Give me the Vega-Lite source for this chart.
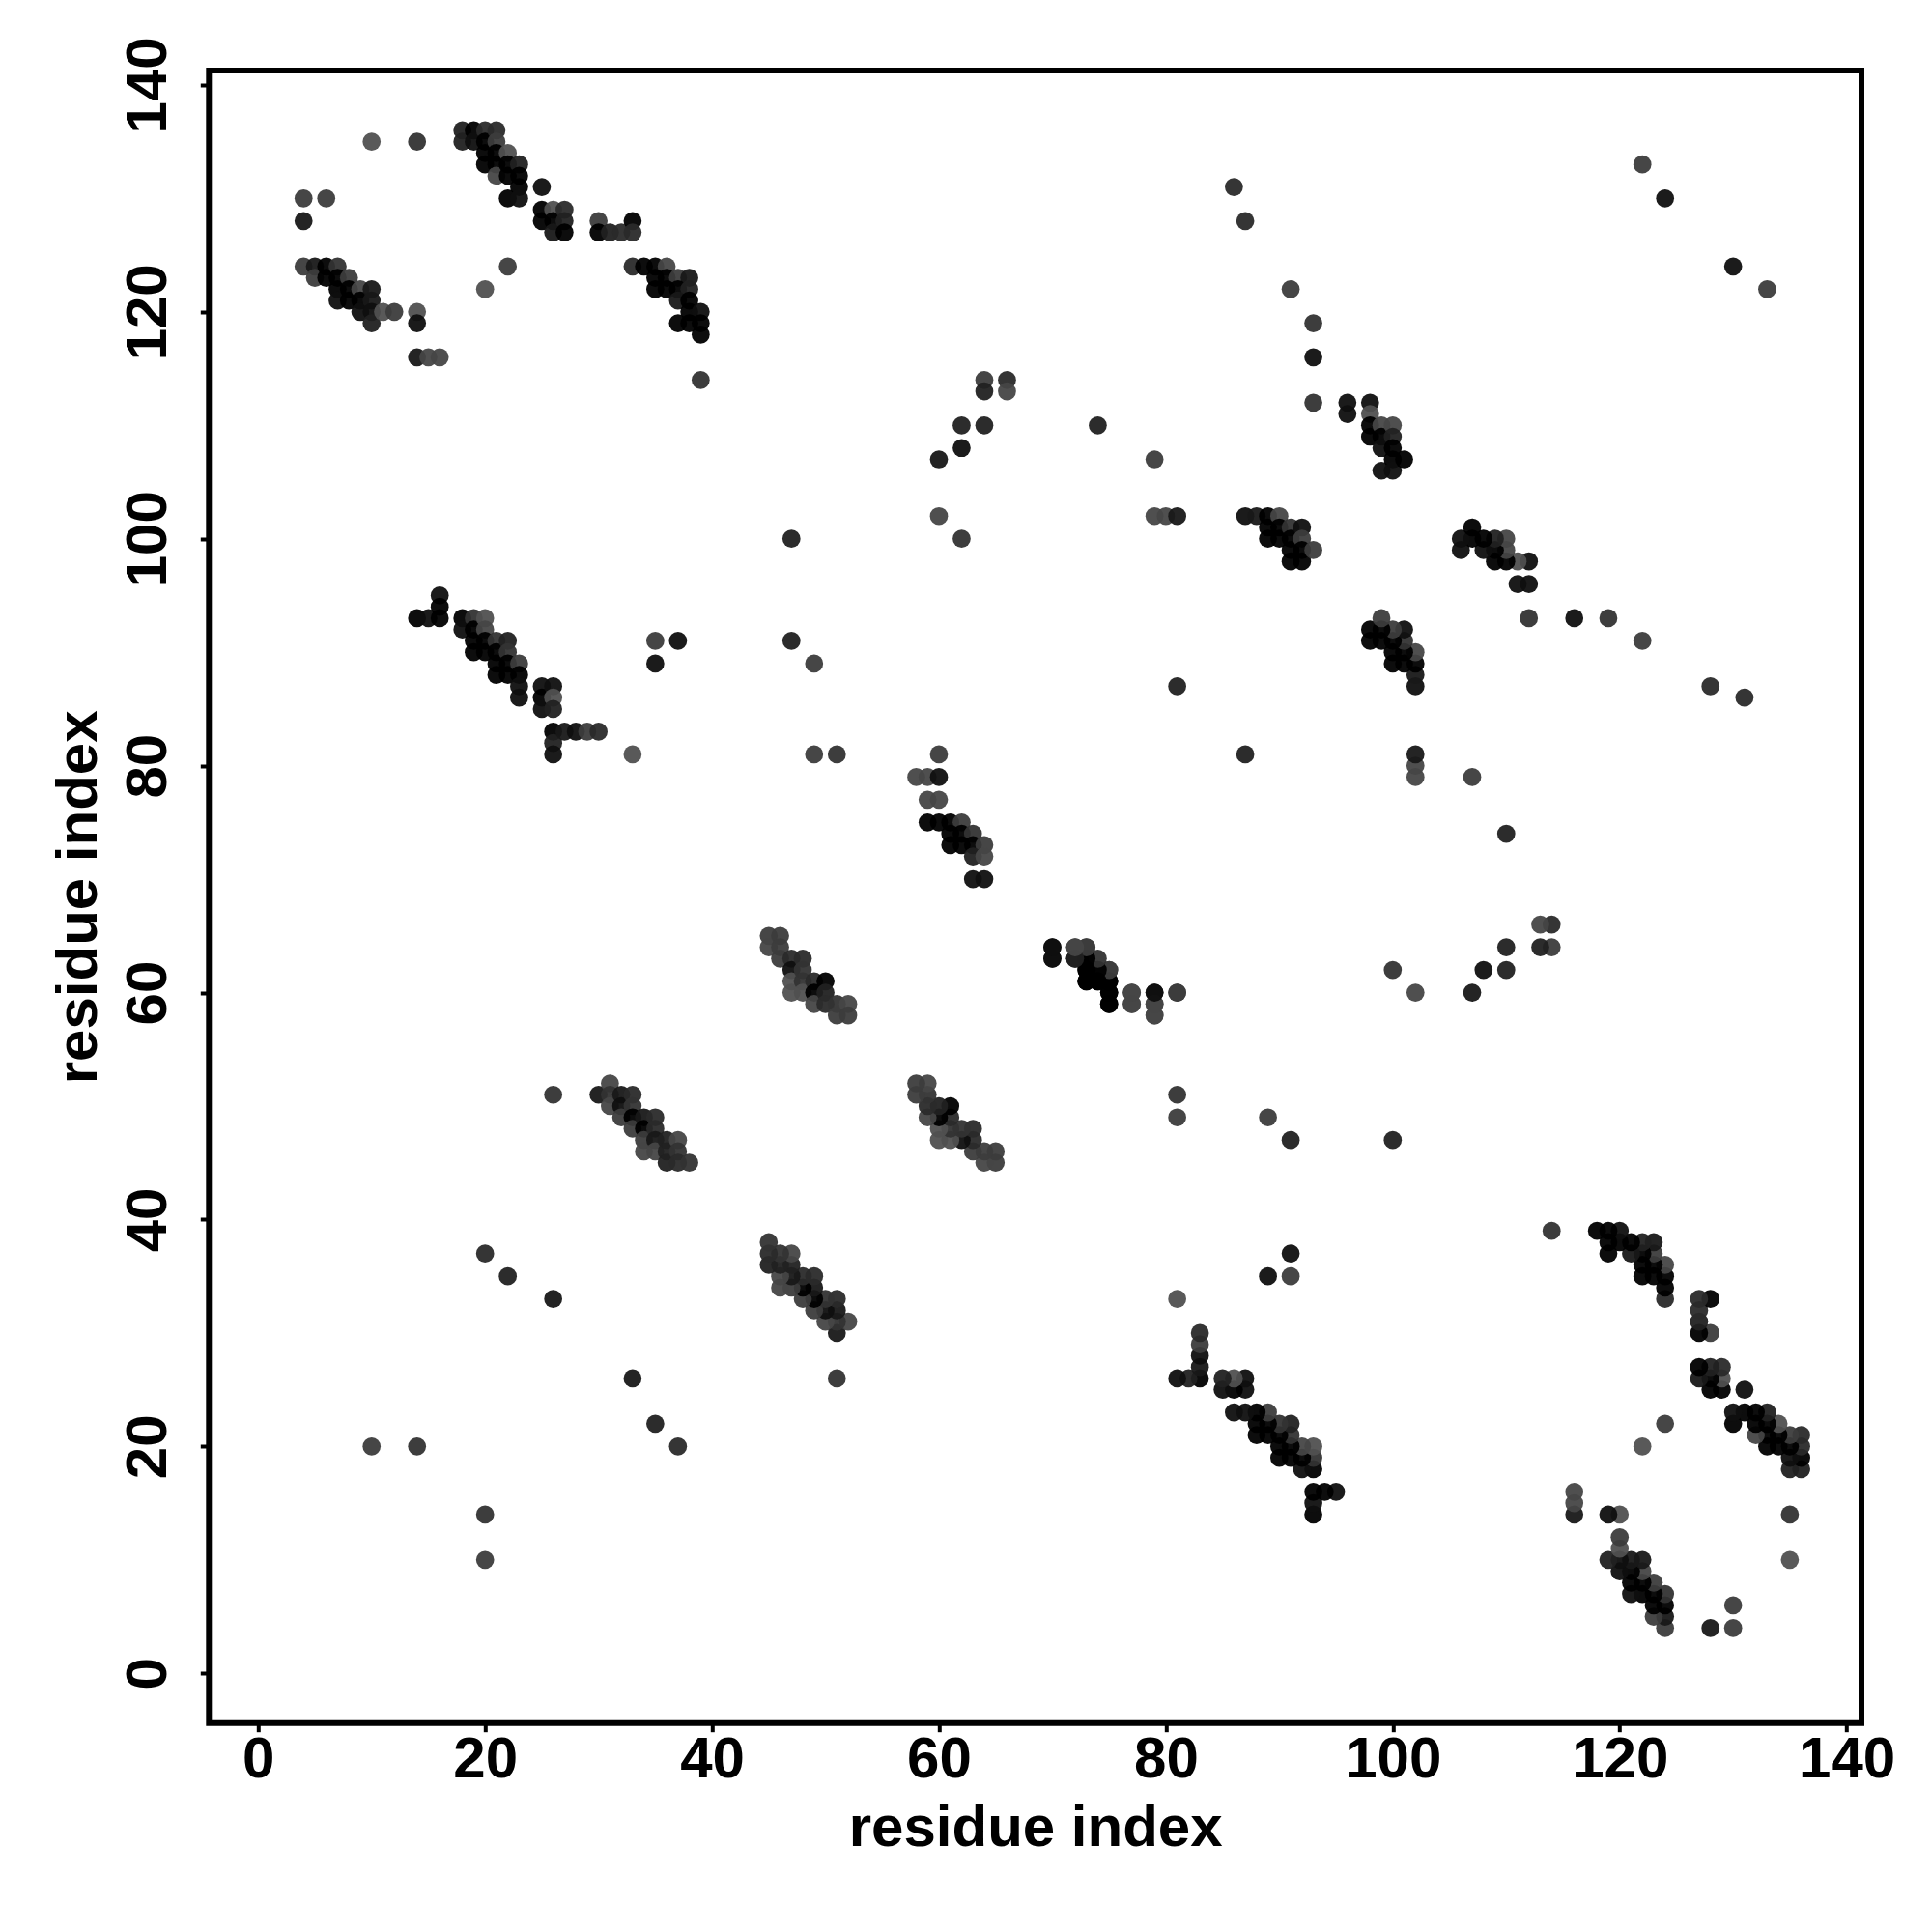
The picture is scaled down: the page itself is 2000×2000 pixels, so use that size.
{"$schema":"https://vega.github.io/schema/vega-lite/v6.json","autosize":{"type":"none"},"padding":{"left":216.3,"top":73,"right":73,"bottom":216.3},"width":1710.7,"height":1710.7,"background":"white","config":{"view":{"stroke":"black","strokeWidth":6,"fill":"white"}},"data":{"values":[
{"x":4,"y":130,"g":6},{"x":6,"y":130,"g":6},{"x":4,"y":128,"g":2},{"x":10,"y":135,"g":8},{"x":14,"y":135,"g":5},
{"x":18,"y":136,"g":3},{"x":18,"y":135,"g":3},{"x":19,"y":136,"g":0},{"x":19,"y":135,"g":1},{"x":20,"y":136,"g":4},{"x":20,"y":135,"g":0},{"x":20,"y":134,"g":0},{"x":20,"y":133,"g":0},{"x":21,"y":136,"g":4},{"x":21,"y":135,"g":6},{"x":21,"y":134,"g":0},{"x":21,"y":133,"g":0},{"x":21,"y":132,"g":7},{"x":22,"y":134,"g":8},{"x":22,"y":133,"g":0},{"x":22,"y":132,"g":0},{"x":22,"y":130,"g":0},{"x":23,"y":133,"g":3},{"x":23,"y":132,"g":0},{"x":23,"y":131,"g":0},{"x":23,"y":130,"g":1},
{"x":25,"y":131,"g":1},{"x":25,"y":129,"g":0},{"x":25,"y":128,"g":0},{"x":26,"y":129,"g":8},{"x":26,"y":128,"g":0},{"x":26,"y":127,"g":2},{"x":27,"y":129,"g":4},{"x":27,"y":128,"g":3},{"x":27,"y":127,"g":0},
{"x":30,"y":128,"g":6},{"x":30,"y":127,"g":0},{"x":31,"y":127,"g":3},{"x":32,"y":127,"g":4},{"x":33,"y":128,"g":0},{"x":33,"y":127,"g":4},
{"x":4,"y":124,"g":6},{"x":5,"y":124,"g":2},{"x":5,"y":123,"g":6},{"x":6,"y":124,"g":0},{"x":6,"y":123,"g":0},{"x":7,"y":124,"g":5},{"x":7,"y":123,"g":0},{"x":7,"y":122,"g":0},{"x":7,"y":121,"g":1},{"x":8,"y":123,"g":6},{"x":8,"y":122,"g":0},{"x":8,"y":121,"g":0},{"x":9,"y":122,"g":7},{"x":9,"y":121,"g":0},{"x":9,"y":120,"g":1},{"x":10,"y":122,"g":2},{"x":10,"y":121,"g":2},{"x":10,"y":120,"g":1},{"x":10,"y":119,"g":3},{"x":11,"y":120,"g":8},{"x":12,"y":120,"g":6},{"x":14,"y":120,"g":8},{"x":14,"y":119,"g":1},{"x":14,"y":116,"g":2},{"x":15,"y":116,"g":7},{"x":16,"y":116,"g":7},{"x":20,"y":122,"g":8},{"x":22,"y":124,"g":6},
{"x":33,"y":124,"g":4},{"x":34,"y":124,"g":0},{"x":35,"y":124,"g":0},{"x":36,"y":124,"g":7},{"x":35,"y":123,"g":0},{"x":36,"y":123,"g":0},{"x":37,"y":123,"g":6},{"x":38,"y":123,"g":2},{"x":35,"y":122,"g":0},{"x":36,"y":122,"g":0},{"x":37,"y":122,"g":0},{"x":38,"y":122,"g":3},{"x":37,"y":121,"g":2},{"x":38,"y":121,"g":0},{"x":38,"y":120,"g":0},{"x":39,"y":120,"g":1},{"x":37,"y":119,"g":0},{"x":38,"y":119,"g":0},{"x":39,"y":119,"g":0},{"x":39,"y":118,"g":0},{"x":39,"y":114,"g":5},
{"x":14,"y":93,"g":0},{"x":15,"y":93,"g":1},{"x":16,"y":95,"g":1},{"x":16,"y":94,"g":0},{"x":16,"y":93,"g":0},{"x":18,"y":93,"g":0},{"x":18,"y":92,"g":1},{"x":19,"y":93,"g":5},{"x":19,"y":92,"g":0},{"x":19,"y":91,"g":0},{"x":19,"y":90,"g":0},{"x":20,"y":93,"g":8},{"x":20,"y":92,"g":7},{"x":20,"y":91,"g":0},{"x":20,"y":90,"g":0},{"x":21,"y":91,"g":5},{"x":21,"y":90,"g":0},{"x":21,"y":89,"g":0},{"x":21,"y":88,"g":0},{"x":22,"y":91,"g":3},{"x":22,"y":90,"g":5},{"x":22,"y":89,"g":0},{"x":22,"y":88,"g":0},{"x":23,"y":89,"g":6},{"x":23,"y":88,"g":0},{"x":23,"y":87,"g":1},{"x":23,"y":86,"g":1},
{"x":25,"y":87,"g":1},{"x":25,"y":86,"g":0},{"x":25,"y":85,"g":1},{"x":26,"y":87,"g":1},{"x":26,"y":86,"g":8},{"x":26,"y":85,"g":3},{"x":26,"y":83,"g":0},{"x":26,"y":82,"g":3},{"x":26,"y":81,"g":1},{"x":27,"y":83,"g":2},{"x":28,"y":83,"g":1},{"x":29,"y":83,"g":6},{"x":30,"y":83,"g":4},{"x":33,"y":81,"g":8},{"x":35,"y":91,"g":6},{"x":35,"y":89,"g":1},{"x":37,"y":91,"g":1},
{"x":30,"y":51,"g":2},{"x":31,"y":52,"g":7},{"x":31,"y":51,"g":5},{"x":31,"y":50,"g":7},{"x":32,"y":51,"g":2},{"x":32,"y":50,"g":1},{"x":32,"y":49,"g":6},{"x":33,"y":51,"g":4},{"x":33,"y":50,"g":5},{"x":33,"y":49,"g":0},{"x":33,"y":48,"g":6},{"x":34,"y":49,"g":2},{"x":34,"y":48,"g":0},{"x":34,"y":47,"g":6},{"x":34,"y":46,"g":7},{"x":35,"y":49,"g":4},{"x":35,"y":48,"g":4},{"x":35,"y":47,"g":2},{"x":35,"y":46,"g":7},{"x":36,"y":47,"g":3},{"x":36,"y":46,"g":3},{"x":36,"y":45,"g":3},{"x":37,"y":47,"g":7},{"x":37,"y":46,"g":5},{"x":37,"y":45,"g":4},{"x":38,"y":45,"g":5},
{"x":45,"y":65,"g":6},{"x":45,"y":64,"g":7},{"x":46,"y":65,"g":6},{"x":46,"y":64,"g":6},{"x":46,"y":63,"g":6},{"x":47,"y":63,"g":4},{"x":47,"y":62,"g":1},{"x":47,"y":61,"g":8},{"x":47,"y":60,"g":8},{"x":48,"y":63,"g":4},{"x":48,"y":62,"g":5},{"x":48,"y":61,"g":5},{"x":48,"y":60,"g":8},{"x":49,"y":61,"g":4},{"x":49,"y":60,"g":0},{"x":49,"y":59,"g":7},{"x":50,"y":61,"g":0},{"x":50,"y":60,"g":3},{"x":50,"y":59,"g":4},{"x":51,"y":59,"g":5},{"x":51,"y":58,"g":6},{"x":52,"y":59,"g":7},{"x":52,"y":58,"g":6},
{"x":60,"y":81,"g":6},{"x":58,"y":79,"g":7},{"x":59,"y":79,"g":7},{"x":60,"y":79,"g":1},{"x":59,"y":77,"g":7},{"x":60,"y":77,"g":7},{"x":59,"y":75,"g":0},{"x":60,"y":75,"g":0},{"x":61,"y":75,"g":0},{"x":62,"y":75,"g":6},{"x":61,"y":74,"g":0},{"x":62,"y":74,"g":0},{"x":63,"y":74,"g":5},{"x":61,"y":73,"g":0},{"x":62,"y":73,"g":0},{"x":63,"y":73,"g":0},{"x":64,"y":73,"g":6},{"x":63,"y":72,"g":3},{"x":64,"y":72,"g":7},{"x":63,"y":70,"g":1},{"x":64,"y":70,"g":1},
{"x":70,"y":64,"g":1},{"x":70,"y":63,"g":1},{"x":72,"y":64,"g":6},{"x":72,"y":63,"g":2},{"x":73,"y":64,"g":6},{"x":73,"y":63,"g":0},{"x":73,"y":62,"g":0},{"x":73,"y":61,"g":0},{"x":74,"y":62,"g":5},{"x":74,"y":61,"g":0},{"x":75,"y":62,"g":7},{"x":75,"y":61,"g":0},{"x":75,"y":60,"g":1},{"x":75,"y":59,"g":1},{"x":77,"y":60,"g":7},{"x":77,"y":59,"g":7},{"x":79,"y":60,"g":1},{"x":79,"y":59,"g":6},{"x":79,"y":58,"g":7},{"x":81,"y":60,"g":6},
{"x":87,"y":102,"g":1},{"x":88,"y":102,"g":2},{"x":89,"y":102,"g":0},{"x":89,"y":101,"g":0},{"x":89,"y":100,"g":0},{"x":90,"y":102,"g":7},{"x":90,"y":101,"g":0},{"x":90,"y":100,"g":0},{"x":91,"y":101,"g":5},{"x":91,"y":100,"g":0},{"x":91,"y":99,"g":0},{"x":91,"y":98,"g":0},{"x":92,"y":101,"g":1},{"x":92,"y":100,"g":6},{"x":92,"y":99,"g":0},{"x":92,"y":98,"g":0},{"x":93,"y":99,"g":6},
{"x":93,"y":112,"g":5},{"x":96,"y":112,"g":1},{"x":96,"y":111,"g":1},{"x":98,"y":112,"g":1},{"x":98,"y":111,"g":8},{"x":98,"y":110,"g":0},{"x":98,"y":109,"g":0},{"x":99,"y":110,"g":7},{"x":99,"y":109,"g":0},{"x":99,"y":108,"g":1},{"x":99,"y":106,"g":1},{"x":100,"y":110,"g":7},{"x":100,"y":109,"g":3},{"x":100,"y":108,"g":0},{"x":100,"y":107,"g":0},{"x":100,"y":106,"g":1},{"x":101,"y":107,"g":0},
{"x":86,"y":131,"g":4},{"x":87,"y":128,"g":4},{"x":122,"y":133,"g":6},{"x":124,"y":130,"g":1},{"x":91,"y":122,"g":6},{"x":93,"y":119,"g":5},{"x":93,"y":116,"g":1},{"x":64,"y":114,"g":6},{"x":66,"y":114,"g":4},{"x":64,"y":113,"g":3},{"x":66,"y":113,"g":7},{"x":62,"y":110,"g":3},{"x":64,"y":110,"g":3},{"x":60,"y":107,"g":2},{"x":62,"y":108,"g":1},{"x":60,"y":102,"g":7},{"x":62,"y":100,"g":5},{"x":74,"y":110,"g":3},{"x":79,"y":107,"g":6},{"x":79,"y":102,"g":7},{"x":80,"y":102,"g":7},{"x":81,"y":102,"g":2},{"x":47,"y":100,"g":3},{"x":47,"y":91,"g":3},{"x":49,"y":89,"g":6},{"x":49,"y":81,"g":6},{"x":51,"y":81,"g":5},{"x":81,"y":87,"g":3},{"x":26,"y":51,"g":5},{"x":20,"y":37,"g":4},{"x":22,"y":35,"g":3},{"x":26,"y":33,"g":2},{"x":10,"y":20,"g":6},{"x":14,"y":20,"g":5},
{"y":4,"x":130,"g":6},{"y":6,"x":130,"g":6},{"y":4,"x":128,"g":2},{"y":10,"x":135,"g":8},{"y":14,"x":135,"g":5},
{"y":18,"x":136,"g":3},{"y":18,"x":135,"g":3},{"y":19,"x":136,"g":0},{"y":19,"x":135,"g":1},{"y":20,"x":136,"g":4},{"y":20,"x":135,"g":0},{"y":20,"x":134,"g":0},{"y":20,"x":133,"g":0},{"y":21,"x":136,"g":4},{"y":21,"x":135,"g":6},{"y":21,"x":134,"g":0},{"y":21,"x":133,"g":0},{"y":21,"x":132,"g":7},{"y":22,"x":134,"g":8},{"y":22,"x":133,"g":0},{"y":22,"x":132,"g":0},{"y":22,"x":130,"g":0},{"y":23,"x":133,"g":3},{"y":23,"x":132,"g":0},{"y":23,"x":131,"g":0},{"y":23,"x":130,"g":1},
{"y":25,"x":131,"g":1},{"y":25,"x":129,"g":0},{"y":25,"x":128,"g":0},{"y":26,"x":129,"g":8},{"y":26,"x":128,"g":0},{"y":26,"x":127,"g":2},{"y":27,"x":129,"g":4},{"y":27,"x":128,"g":3},{"y":27,"x":127,"g":0},
{"y":30,"x":128,"g":6},{"y":30,"x":127,"g":0},{"y":31,"x":127,"g":3},{"y":32,"x":127,"g":4},{"y":33,"x":128,"g":0},{"y":33,"x":127,"g":4},
{"y":4,"x":124,"g":6},{"y":5,"x":124,"g":2},{"y":5,"x":123,"g":6},{"y":6,"x":124,"g":0},{"y":6,"x":123,"g":0},{"y":7,"x":124,"g":5},{"y":7,"x":123,"g":0},{"y":7,"x":122,"g":0},{"y":7,"x":121,"g":1},{"y":8,"x":123,"g":6},{"y":8,"x":122,"g":0},{"y":8,"x":121,"g":0},{"y":9,"x":122,"g":7},{"y":9,"x":121,"g":0},{"y":9,"x":120,"g":1},{"y":10,"x":122,"g":2},{"y":10,"x":121,"g":2},{"y":10,"x":120,"g":1},{"y":10,"x":119,"g":3},{"y":11,"x":120,"g":8},{"y":12,"x":120,"g":6},{"y":14,"x":120,"g":8},{"y":14,"x":119,"g":1},{"y":14,"x":116,"g":2},{"y":15,"x":116,"g":7},{"y":16,"x":116,"g":7},{"y":20,"x":122,"g":8},{"y":22,"x":124,"g":6},
{"y":33,"x":124,"g":4},{"y":34,"x":124,"g":0},{"y":35,"x":124,"g":0},{"y":36,"x":124,"g":7},{"y":35,"x":123,"g":0},{"y":36,"x":123,"g":0},{"y":37,"x":123,"g":6},{"y":38,"x":123,"g":2},{"y":35,"x":122,"g":0},{"y":36,"x":122,"g":0},{"y":37,"x":122,"g":0},{"y":38,"x":122,"g":3},{"y":37,"x":121,"g":2},{"y":38,"x":121,"g":0},{"y":38,"x":120,"g":0},{"y":39,"x":120,"g":1},{"y":37,"x":119,"g":0},{"y":38,"x":119,"g":0},{"y":39,"x":119,"g":0},{"y":39,"x":118,"g":0},{"y":39,"x":114,"g":5},
{"y":14,"x":93,"g":0},{"y":15,"x":93,"g":1},{"y":16,"x":95,"g":1},{"y":16,"x":94,"g":0},{"y":16,"x":93,"g":0},{"y":18,"x":93,"g":0},{"y":18,"x":92,"g":1},{"y":19,"x":93,"g":5},{"y":19,"x":92,"g":0},{"y":19,"x":91,"g":0},{"y":19,"x":90,"g":0},{"y":20,"x":93,"g":8},{"y":20,"x":92,"g":7},{"y":20,"x":91,"g":0},{"y":20,"x":90,"g":0},{"y":21,"x":91,"g":5},{"y":21,"x":90,"g":0},{"y":21,"x":89,"g":0},{"y":21,"x":88,"g":0},{"y":22,"x":91,"g":3},{"y":22,"x":90,"g":5},{"y":22,"x":89,"g":0},{"y":22,"x":88,"g":0},{"y":23,"x":89,"g":6},{"y":23,"x":88,"g":0},{"y":23,"x":87,"g":1},{"y":23,"x":86,"g":1},
{"y":25,"x":87,"g":1},{"y":25,"x":86,"g":0},{"y":25,"x":85,"g":1},{"y":26,"x":87,"g":1},{"y":26,"x":86,"g":8},{"y":26,"x":85,"g":3},{"y":26,"x":83,"g":0},{"y":26,"x":82,"g":3},{"y":26,"x":81,"g":1},{"y":27,"x":83,"g":2},{"y":28,"x":83,"g":1},{"y":29,"x":83,"g":6},{"y":30,"x":83,"g":4},{"y":33,"x":81,"g":8},{"y":35,"x":91,"g":6},{"y":35,"x":89,"g":1},{"y":37,"x":91,"g":1},
{"y":30,"x":51,"g":2},{"y":31,"x":52,"g":7},{"y":31,"x":51,"g":5},{"y":31,"x":50,"g":7},{"y":32,"x":51,"g":2},{"y":32,"x":50,"g":1},{"y":32,"x":49,"g":6},{"y":33,"x":51,"g":4},{"y":33,"x":50,"g":5},{"y":33,"x":49,"g":0},{"y":33,"x":48,"g":6},{"y":34,"x":49,"g":2},{"y":34,"x":48,"g":0},{"y":34,"x":47,"g":6},{"y":34,"x":46,"g":7},{"y":35,"x":49,"g":4},{"y":35,"x":48,"g":4},{"y":35,"x":47,"g":2},{"y":35,"x":46,"g":7},{"y":36,"x":47,"g":3},{"y":36,"x":46,"g":3},{"y":36,"x":45,"g":3},{"y":37,"x":47,"g":7},{"y":37,"x":46,"g":5},{"y":37,"x":45,"g":4},{"y":38,"x":45,"g":5},
{"y":45,"x":65,"g":6},{"y":45,"x":64,"g":7},{"y":46,"x":65,"g":6},{"y":46,"x":64,"g":6},{"y":46,"x":63,"g":6},{"y":47,"x":63,"g":4},{"y":47,"x":62,"g":1},{"y":47,"x":61,"g":8},{"y":47,"x":60,"g":8},{"y":48,"x":63,"g":4},{"y":48,"x":62,"g":5},{"y":48,"x":61,"g":5},{"y":48,"x":60,"g":8},{"y":49,"x":61,"g":4},{"y":49,"x":60,"g":0},{"y":49,"x":59,"g":7},{"y":50,"x":61,"g":0},{"y":50,"x":60,"g":3},{"y":50,"x":59,"g":4},{"y":51,"x":59,"g":5},{"y":51,"x":58,"g":6},{"y":52,"x":59,"g":7},{"y":52,"x":58,"g":6},
{"y":60,"x":81,"g":6},{"y":58,"x":79,"g":7},{"y":59,"x":79,"g":7},{"y":60,"x":79,"g":1},{"y":59,"x":77,"g":7},{"y":60,"x":77,"g":7},{"y":59,"x":75,"g":0},{"y":60,"x":75,"g":0},{"y":61,"x":75,"g":0},{"y":62,"x":75,"g":6},{"y":61,"x":74,"g":0},{"y":62,"x":74,"g":0},{"y":63,"x":74,"g":5},{"y":61,"x":73,"g":0},{"y":62,"x":73,"g":0},{"y":63,"x":73,"g":0},{"y":64,"x":73,"g":6},{"y":63,"x":72,"g":3},{"y":64,"x":72,"g":7},{"y":63,"x":70,"g":1},{"y":64,"x":70,"g":1},
{"y":87,"x":102,"g":1},{"y":88,"x":102,"g":2},{"y":89,"x":102,"g":0},{"y":89,"x":101,"g":0},{"y":89,"x":100,"g":0},{"y":90,"x":102,"g":7},{"y":90,"x":101,"g":0},{"y":90,"x":100,"g":0},{"y":91,"x":101,"g":5},{"y":91,"x":100,"g":0},{"y":91,"x":99,"g":0},{"y":91,"x":98,"g":0},{"y":92,"x":101,"g":1},{"y":92,"x":100,"g":6},{"y":92,"x":99,"g":0},{"y":92,"x":98,"g":0},{"y":93,"x":99,"g":6},
{"y":93,"x":112,"g":5},{"y":96,"x":112,"g":1},{"y":96,"x":111,"g":1},{"y":98,"x":112,"g":1},{"y":98,"x":111,"g":8},{"y":98,"x":110,"g":0},{"y":98,"x":109,"g":0},{"y":99,"x":110,"g":7},{"y":99,"x":109,"g":0},{"y":99,"x":108,"g":1},{"y":99,"x":106,"g":1},{"y":100,"x":110,"g":7},{"y":100,"x":109,"g":3},{"y":100,"x":108,"g":0},{"y":100,"x":107,"g":0},{"y":100,"x":106,"g":1},{"y":101,"x":107,"g":0},
{"y":86,"x":131,"g":4},{"y":87,"x":128,"g":4},{"y":122,"x":133,"g":6},{"y":124,"x":130,"g":1},{"y":91,"x":122,"g":6},{"y":93,"x":119,"g":5},{"y":93,"x":116,"g":1},{"y":64,"x":114,"g":6},{"y":66,"x":114,"g":4},{"y":64,"x":113,"g":3},{"y":66,"x":113,"g":7},{"y":62,"x":110,"g":3},{"y":64,"x":110,"g":3},{"y":60,"x":107,"g":2},{"y":62,"x":108,"g":1},{"y":60,"x":102,"g":7},{"y":62,"x":100,"g":5},{"y":74,"x":110,"g":3},{"y":79,"x":107,"g":6},{"y":79,"x":102,"g":7},{"y":80,"x":102,"g":7},{"y":81,"x":102,"g":2},{"y":47,"x":100,"g":3},{"y":47,"x":91,"g":3},{"y":49,"x":89,"g":6},{"y":49,"x":81,"g":6},{"y":51,"x":81,"g":5},{"y":81,"x":87,"g":3},{"y":26,"x":51,"g":5},{"y":20,"x":37,"g":4},{"y":22,"x":35,"g":3},{"y":26,"x":33,"g":2},{"y":10,"x":20,"g":6},{"y":14,"x":20,"g":5}
]},"mark":{"type":"circle","size":350,"opacity":0.95},"encoding":{
"x":{"field":"x","type":"quantitative","title":"residue index","scale":{"domain":[-4.34,141.31],"nice":false,"zero":false},"axis":{"values":[0,20,40,60,80,100,120,140],"grid":false,"domain":false,"tickColor":"black","tickWidth":4,"tickSize":9,"labelFont":"Liberation Sans","labelFontWeight":"bold","labelFontSize":60,"labelColor":"black","labelPadding":0,"labelFlush":false,"labelOverlap":false,"titleFont":"Liberation Sans","titleFontWeight":"bold","titleFontSize":60,"titleColor":"black","titleBaseline":"alphabetic","titleY":127}},
"y":{"field":"y","type":"quantitative","title":"residue index","scale":{"domain":[-4.38,141.27],"nice":false,"zero":false},"axis":{"values":[0,20,40,60,80,100,120,140],"grid":false,"domain":false,"tickColor":"black","tickWidth":4,"tickSize":9,"labelFont":"Liberation Sans","labelFontWeight":"bold","labelFontSize":60,"labelColor":"black","labelAngle":270,"labelAlign":"center","labelBaseline":"alphabetic","labelPadding":36,"labelFlush":false,"labelOverlap":false,"titleFont":"Liberation Sans","titleFontWeight":"bold","titleFontSize":60,"titleColor":"black","titleAngle":270,"titleBaseline":"alphabetic","titleX":-117}},
"color":{"field":"g","type":"quantitative","legend":null,"scale":{"domain":[0,9],"range":["#000000","#5a5a5a"]}},
"order":[{"field":"x","type":"quantitative"},{"field":"y","type":"quantitative"}]
}}
